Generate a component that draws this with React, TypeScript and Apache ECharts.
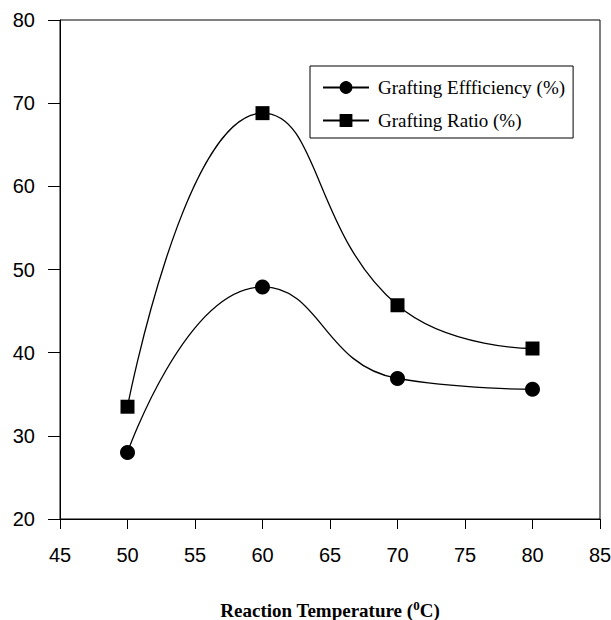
import React, { useEffect, useRef } from "react";
import * as echarts from "echarts";

const temperatures = [50, 60, 70, 80];
const graftingEfficiency = [28.0, 47.9, 36.9, 35.6];
const graftingRatio = [33.5, 68.8, 45.7, 40.5];
const xTicks = [45, 50, 55, 60, 65, 70, 75, 80, 85];
const yTicks = [20, 30, 40, 50, 60, 70, 80];

export default function App() {
  const ref = useRef<HTMLDivElement>(null);
  useEffect(() => {
    if (!ref.current) return;
    const chart = echarts.init(ref.current, undefined, { renderer: "svg" });
    const pair = (vals: number[]) => temperatures.map((t, i) => [t, vals[i]]);
    chart.setOption({
      animation: false,
      backgroundColor: "#fff",
      grid: {
        left: 60,
        right: 11,
        top: 20,
        bottom: 101,
        outerBoundsMode: "none",
        containLabel: false,
        show: true,
        borderColor: "#000",
        borderWidth: 1,
      },
      legend: {
        orient: "vertical",
        left: 310,
        top: 66,
        padding: [12, 8, 8, 12],
        itemGap: 14,
        itemWidth: 46,
        itemHeight: 16,
        borderColor: "#000",
        borderWidth: 1,
        textStyle: { fontFamily: "Liberation Serif", fontSize: 19, color: "#000", padding: [0, 0, 0, 4] },
        data: ["Grafting Effficiency (%)", "Grafting Ratio (%)"],
      },
      xAxis: {
        type: "value",
        min: xTicks[0],
        max: xTicks[xTicks.length - 1],
        interval: 5,
        axisLine: { lineStyle: { color: "#000", width: 1 } },
        axisTick: { show: true, inside: false, length: 10, lineStyle: { color: "#000" } },
        axisLabel: { fontFamily: "Liberation Sans", fontSize: 20, color: "#000", margin: 26 },
        splitLine: { show: false },
        name: "{b|Reaction Temperature (}{s|0}{b|C)}",
        nameLocation: "middle",
        nameGap: 80,
        nameTextStyle: {
          rich: {
            b: { fontFamily: "Liberation Serif", fontWeight: "bold", fontSize: 19, color: "#000" },
            s: { fontFamily: "Liberation Serif", fontWeight: "bold", fontSize: 13, color: "#000", verticalAlign: "top", padding: [0, 0, 9, 0] },
          },
        },
      },
      yAxis: {
        type: "value",
        min: yTicks[0],
        max: yTicks[yTicks.length - 1],
        interval: 10,
        axisLine: { show: true, lineStyle: { color: "#000", width: 1 } },
        axisTick: { show: true, inside: false, length: 12, lineStyle: { color: "#000" } },
        axisLabel: { fontFamily: "Liberation Sans", fontSize: 20, color: "#000", margin: 25 },
        splitLine: { show: false },
      },
      series: [
        {
          name: "Grafting Effficiency (%)",
          type: "line",
          smooth: 0.5,
          data: pair(graftingEfficiency),
          symbol: "circle",
          symbolSize: 15,
          lineStyle: { color: "#000", width: 1.3 },
          itemStyle: { color: "#000" },
        },
        {
          name: "Grafting Ratio (%)",
          type: "line",
          smooth: 0.5,
          data: pair(graftingRatio),
          symbol: "rect",
          symbolSize: 14,
          lineStyle: { color: "#000", width: 1.3 },
          itemStyle: { color: "#000" },
        },
      ],
    });
    return () => chart.dispose();
  }, []);
  return (
    <div
      ref={ref}
      style={{ position: "fixed", left: 0, top: 0, width: 611, height: 620, background: "#fff" }}
    />
  );
}
